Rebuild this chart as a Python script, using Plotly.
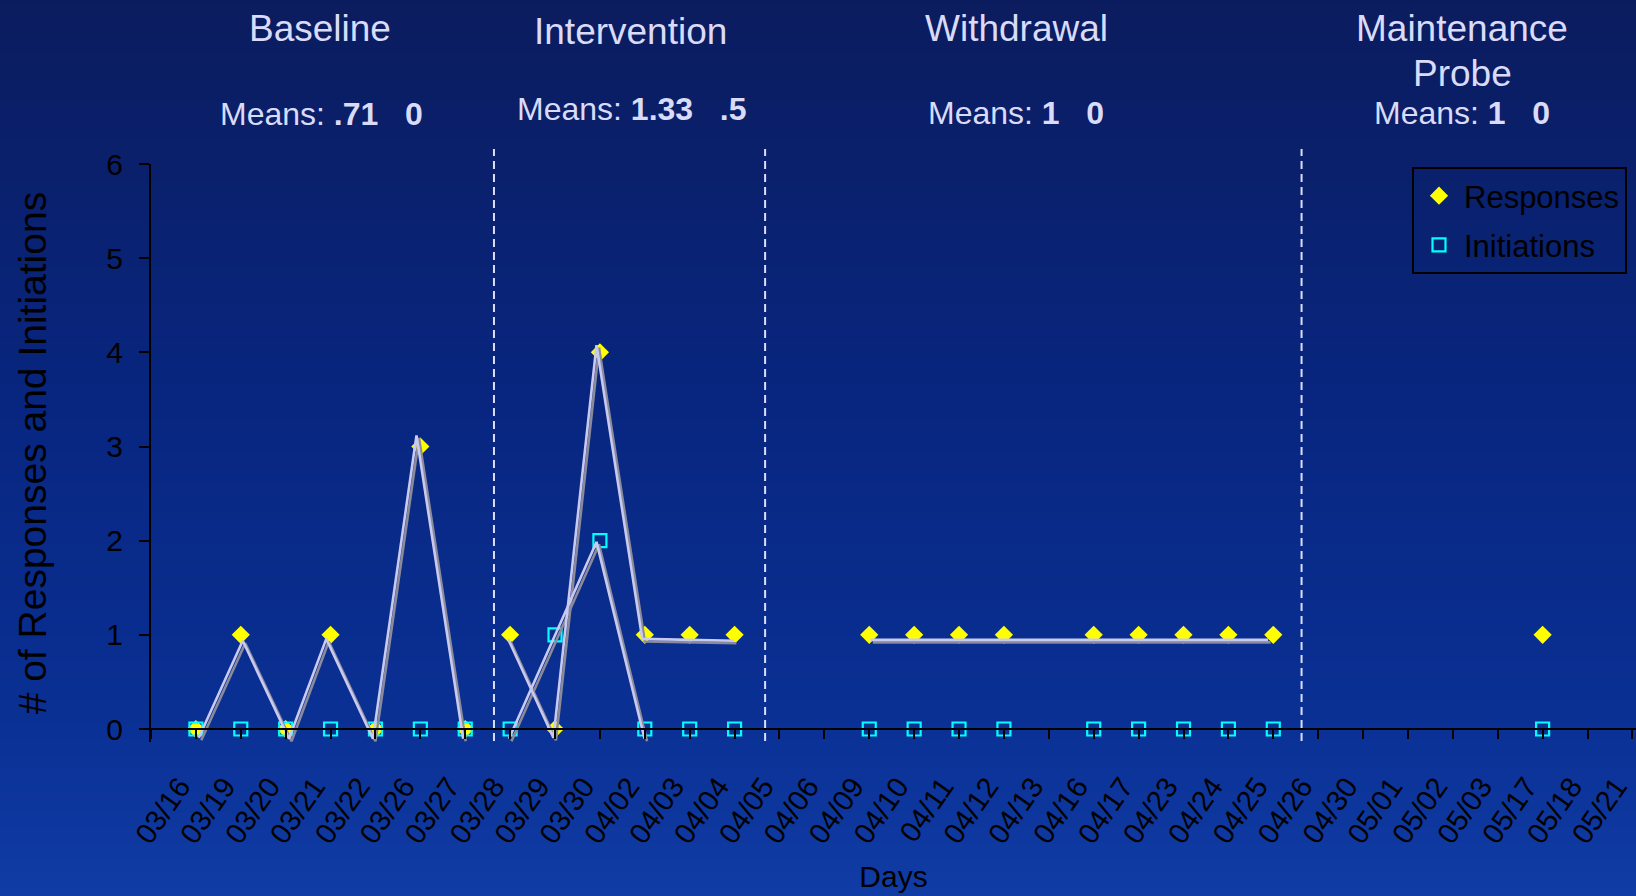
import base64
import struct
import zlib
import plotly.graph_objects as go

# ---------------- data ----------------
dates = ["03/16", "03/19", "03/20", "03/21", "03/22", "03/26", "03/27", "03/28", "03/29", "03/30",
         "04/02", "04/03", "04/04", "04/05", "04/06", "04/09", "04/10", "04/11", "04/12", "04/13",
         "04/16", "04/17", "04/23", "04/24", "04/25", "04/26", "04/30", "05/01", "05/02", "05/03",
         "05/17", "05/18", "05/21"]
N = None
responses = [0, 1, 0, 1, 0, 3, 0,
             1, 0, 4, 1, 1, 1,
             N, N, 1, 1, 1, 1, N, 1, 1, 1, 1, 1,
             N, N, N, N, N, 1, N, N]
initiations = [0, 0, 0, 0, 0, 0, 0,
               0, 1, 2, 0, 0, 0,
               N, N, 0, 0, 0, 0, N, 0, 0, 0, 0, 0,
               N, N, N, N, N, 0, N, N]

phase_names = ["Baseline", "Intervention", "Withdrawal", "Maintenance<br>Probe"]
phase_bounds = [6.64, 12.68, 24.63]          # phase-change lines (category units)

# hand-drawn connecting lines (category units / values)
trend_base_x = [0.12, 1.10, 2.13, 2.96, 4.00, 4.97, 6.01]
trend_base_y = [-0.12, 0.91, -0.13, 0.93, -0.13, 3.09, -0.13]
trend_int_resp_x = [7.01, 8.02, 8.98, 10.00, 12.04]
trend_int_resp_y = [0.93, -0.12, 4.05, 0.93, 0.91]
trend_int_init_x = [7.03, 8.98, 10.05]
trend_int_init_y = [-0.13, 1.96, -0.13]
trend_wd_x = [15.08, 23.94]
trend_wd_y = [0.92, 0.92]

# ---------------- helpers ----------------
W, H = 1636, 896
FONT = "Liberation Sans, Arial, sans-serif"
LAV = "#D9DBF9"


def px_x(p):
    return p / W


def px_y(p):
    return (H - p) / H


def fmt(v):
    s = f"{v:.2f}".rstrip("0").rstrip(".")
    if s.startswith("0."):
        s = s[1:]
    return s


def gradient_png(h, stops, w=4):
    rows = []
    for j in range(h):
        t = j / (h - 1)
        c = stops[-1][1]
        for (t0, c0), (t1, c1) in zip(stops, stops[1:]):
            if t0 <= t <= t1:
                f = (t - t0) / (t1 - t0)
                c = tuple(round(a + (b - a) * f) for a, b in zip(c0, c1))
                break
        rows.append(b"\x00" + bytes(c) * w)
    raw = b"".join(rows)

    def chunk(tag, data):
        return (struct.pack(">I", len(data)) + tag + data
                + struct.pack(">I", zlib.crc32(tag + data) & 0xFFFFFFFF))

    png = (b"\x89PNG\r\n\x1a\n"
           + chunk(b"IHDR", struct.pack(">IIBBBBB", w, h, 8, 2, 0, 0, 0))
           + chunk(b"IDAT", zlib.compress(raw))
           + chunk(b"IEND", b""))
    return "data:image/png;base64," + base64.b64encode(png).decode()


# phase means computed from data
phase_idx = []
for i in range(len(dates)):
    phase_idx.append(sum(1 for b in phase_bounds if i > b))
means = []
for p in range(len(phase_names)):
    r = [v for v, q in zip(responses, phase_idx) if q == p and v is not None]
    a = [v for v, q in zip(initiations, phase_idx) if q == p and v is not None]
    means.append((sum(r) / len(r), sum(a) / len(a)))

xs = list(range(len(dates)))

# ---------------- figure ----------------
fig = go.Figure()

fig.add_trace(go.Scatter(
    x=xs, y=responses, mode="markers", name="Responses",
    marker=dict(symbol="diamond", color="#FFFF00", size=14, line=dict(width=0)),
    legendgroup="r", xaxis="x", yaxis="y"))
fig.add_trace(go.Scatter(
    x=xs, y=initiations, mode="markers", name="Initiations",
    marker=dict(symbol="square-open", color="#00FFFF", size=13, line=dict(width=2.2, color="#00FFFF")),
    legendgroup="i", xaxis="x", yaxis="y"))

trend_sets = [(trend_base_x, trend_base_y), (trend_int_resp_x, trend_int_resp_y),
              (trend_int_init_x, trend_int_init_y), (trend_wd_x, trend_wd_y)]
# gray shadow lines (main axes)
for tx, ty in trend_sets:
    fig.add_trace(go.Scatter(x=tx, y=ty, mode="lines", showlegend=False, hoverinfo="skip",
                             line=dict(color="#8A8A98", width=2.6), xaxis="x", yaxis="y"))
# lavender lines (overlay axes shifted up-left by a couple of pixels)
for tx, ty in trend_sets:
    fig.add_trace(go.Scatter(x=tx, y=ty, mode="lines", showlegend=False, hoverinfo="skip",
                             line=dict(color="#C9CAF2", width=2.6), xaxis="x2", yaxis="y2"))

# geometry
x0px, x1px = 151, 1636
y0px, ytop = 729, 164
xr = [-1, 32.08]
ymin, ymax = -0.14, 6
unit_y = (y0px - ytop) / ymax
ybot = y0px - ymin * unit_y
unit_x = (x1px - x0px) / (xr[1] - xr[0])
dx = 2.5 / unit_x
dy = 2.5 / unit_y

fig.update_layout(
    width=W, height=H,
    margin=dict(l=0, r=0, t=0, b=0),
    paper_bgcolor="#0A2A86",
    plot_bgcolor="rgba(0,0,0,0)",
    template="none",
    font=dict(family=FONT, color="black"),
    showlegend=True,
    legend=dict(x=px_x(1412), y=px_y(167), xanchor="left", yanchor="top",
                bgcolor="rgba(0,0,0,0)", bordercolor="black", borderwidth=2,
                font=dict(family=FONT, size=31, color="black"),
                itemwidth=40, tracegroupgap=6),
    xaxis=dict(domain=[px_x(x0px), 1], range=xr, anchor="free", position=px_y(y0px),
               tickmode="array", tickvals=list(range(-1, len(dates))), ticktext=[""] + dates,
               tickangle=-55, ticks="outside", ticklen=9, tickwidth=2, tickcolor="black",
               showline=True, linecolor="black", linewidth=2, showgrid=False, zeroline=False,
               tickfont=dict(family=FONT, size=29, color="black"),
               ticklabelstandoff=19, ticklabelshift=-16, ticklabeloverflow="allow",
               title=dict(text="Days", font=dict(family=FONT, size=30, color="black"), standoff=16)),
    yaxis=dict(domain=[px_y(ybot), px_y(ytop)], range=[ymin, ymax], anchor="x",
               tickmode="array", tickvals=list(range(0, 7)),
               ticks="outside", ticklen=10, tickwidth=2, tickcolor="black",
               showline=True, linecolor="black", linewidth=2, showgrid=False, zeroline=False,
               tickfont=dict(family=FONT, size=30, color="black"), ticklabelstandoff=10,
               title=dict(text="# of Responses and Initiations",
                          font=dict(family=FONT, size=39, color="black"), standoff=48)),
    xaxis2=dict(overlaying="x", range=[xr[0] + dx, xr[1] + dx], visible=False, anchor="y2"),
    yaxis2=dict(overlaying="y", range=[ymin - dy, ymax - dy], visible=False, anchor="x2"),
    images=[dict(source=gradient_png(H, [(0.0, (11, 28, 94)), (0.45, (8, 38, 128)),
                                          (0.8, (10, 48, 148)), (1.0, (16, 60, 165))]),
                 xref="paper", yref="paper", x=0, y=1, sizex=1, sizey=1,
                 sizing="stretch", layer="below", xanchor="left", yanchor="top")],
)

# phase change lines
for b in phase_bounds:
    fig.add_shape(type="line", xref="x", yref="paper", x0=b, x1=b,
                  y0=px_y(741), y1=px_y(149),
                  line=dict(color="#DCDDFB", width=2, dash="8px,5px"))

# phase titles and means
title_pos = [(320, 28), (630, 32), (1016, 28), (1462, 51)]
means_pos = [(321, 114), (631, 108.5), (1016, 113), (1462, 113)]
nb = "\u00a0"
for name, (tx, ty), (mx, my), (mr, mi) in zip(phase_names, title_pos, means_pos, means):
    lines = name.split("<br>")
    for k, ln in enumerate(lines):
        yy = ty if len(lines) == 1 else ty - 22 + 44 * k
        fig.add_annotation(text=ln, x=px_x(tx), y=px_y(yy), xref="paper", yref="paper",
                           showarrow=False, xanchor="center", yanchor="middle",
                           font=dict(family=FONT, size=37, color=LAV))
    fig.add_annotation(text=f"Means: <b>{fmt(mr)}</b>{nb * 3}<b>{fmt(mi)}</b>",
                       x=px_x(mx), y=px_y(my), xref="paper", yref="paper",
                       showarrow=False, xanchor="center", yanchor="middle",
                       font=dict(family=FONT, size=32, color=LAV))

fig.write_html("out.html",
               config={"displayModeBar": False},
               post_script="document.body.style.margin='0';document.body.style.overflow='hidden';")
